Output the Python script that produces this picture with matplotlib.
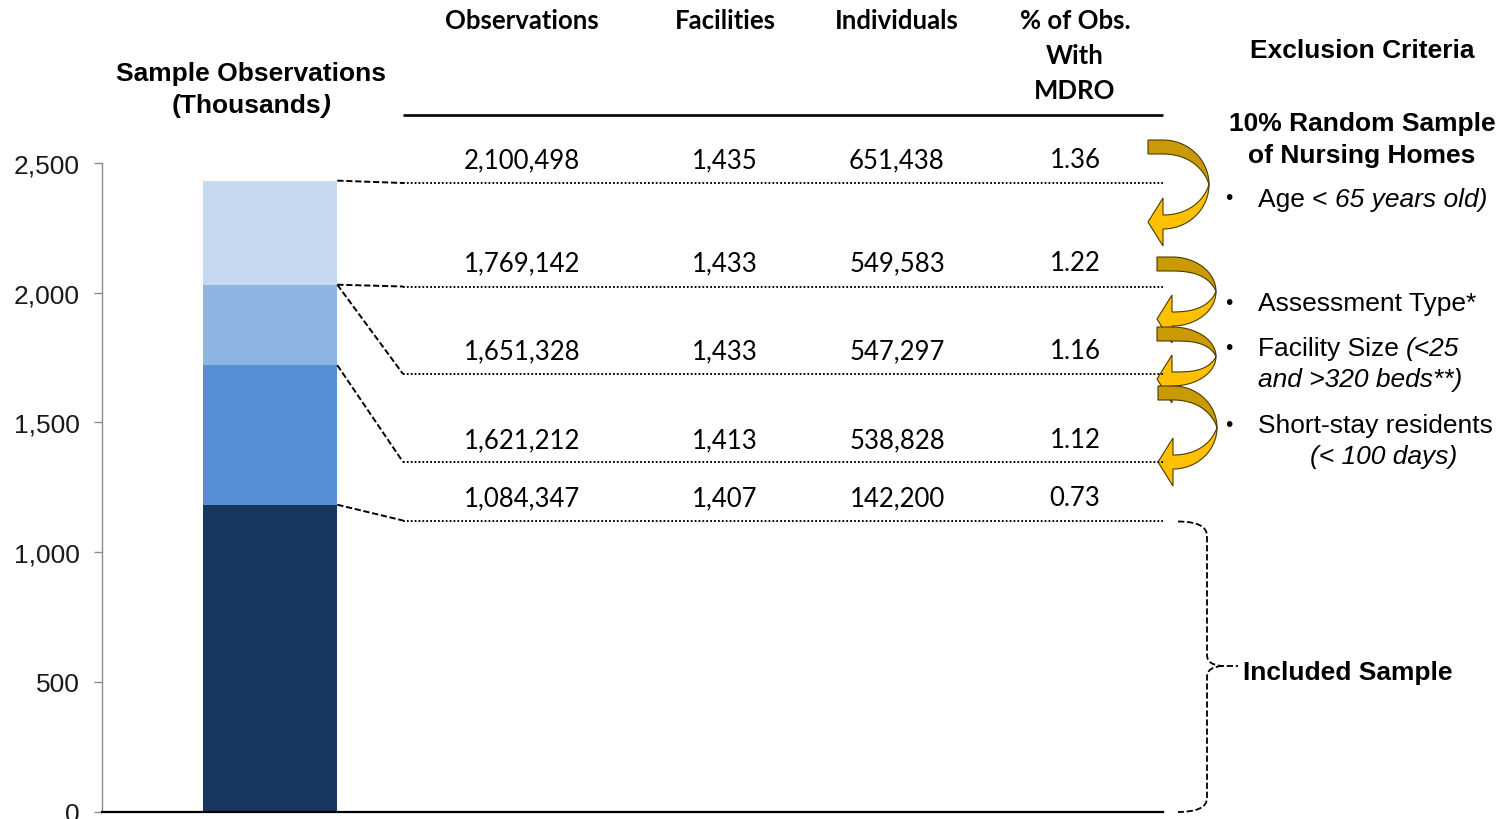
import numpy as np
import matplotlib
matplotlib.use("Agg")
import matplotlib.pyplot as plt
from matplotlib.patches import Polygon, PathPatch
from matplotlib.path import Path
from matplotlib.ticker import FuncFormatter

# ---------------- data ----------------
# stacked bar, bottom -> top (thousands of observations)
segment_names = ["Included sample", "Short-stay residents", "Assessment type / facility size", "Age < 65"]
segment_values = [1183, 538, 310, 401]
segment_colors = ["#17375E", "#558ED5", "#8EB4E3", "#C6D9F1"]

col_headers = ["Observations", "Facilities", "Individuals", "% of Obs.\nWith\nMDRO"]
observations = [2100498, 1769142, 1651328, 1621212, 1084347]
facilities = [1435, 1433, 1433, 1413, 1407]
individuals = [651438, 549583, 547297, 538828, 142200]
pct_mdro = [1.36, 1.22, 1.16, 1.12, 0.73]

y_ticks = [0, 500, 1000, 1500, 2000, 2500]

# ---------------- layout ----------------
W, H = 1507, 820
fig = plt.figure(figsize=(W / 100, H / 100), dpi=100)

ax = fig.add_axes([101.7 / W, (H - 812.7) / H, (1163 - 101.7) / W, (812.7 - 164) / H])
ax.set_ylim(0, 2500)
ax.set_xlim(0, 1)
bar_x, bar_w = 0.1586, 0.1268

base = 0
tops = []
for v, c in zip(segment_values, segment_colors):
    ax.bar(bar_x, v, bar_w, bottom=base, color=c, linewidth=0, zorder=2)
    base += v
    tops.append(base)

for s in ["top", "right"]:
    ax.spines[s].set_visible(False)
ax.spines["left"].set_color("#8c8c8c")
ax.spines["left"].set_linewidth(1.0)
ax.spines["bottom"].set_color("black")
ax.spines["bottom"].set_linewidth(1.6)
ax.set_xticks([])
ax.set_yticks(y_ticks)
ax.yaxis.set_major_formatter(FuncFormatter(lambda v, p: f"{int(v):,}"))
ax.tick_params(axis="y", direction="out", length=6, width=1, color="#8c8c8c",
               labelsize=19, pad=10, labelcolor="#1a1a1a")
for lab in ax.get_yticklabels():
    lab.set_family("Liberation Sans")

# overlay in pixel units for the table, connectors and annotations
ov = fig.add_axes([0, 0, 1, 1], zorder=5)
ov.set_xlim(0, W)
ov.set_ylim(H, 0)
ov.axis("off")
ov.patch.set_alpha(0)

renderer = fig.canvas.get_renderer()


def to_px(x, y):
    d = ax.transData.transform((x, y))
    return d[0], H - d[1]


ARIAL = "Liberation Sans"
TABLE = "Lato"


def rich(x, y, parts, size, weight="normal", align="left", family=ARIAL):
    """Draw a line made of regular/italic pieces; a leading space becomes a gap."""
    probe1 = ov.text(0, 0, "a a", fontsize=size, family=family, fontweight=weight)
    probe2 = ov.text(0, 0, "aa", fontsize=size, family=family, fontweight=weight)
    space = probe1.get_window_extent(renderer).width - probe2.get_window_extent(renderer).width
    probe1.remove()
    probe2.remove()
    arts, offs = [], []
    cur = 0.0
    for txt, italic in parts:
        if txt.startswith(" "):
            cur += space
            txt = txt.lstrip(" ")
        t = ov.text(0, y, txt, fontsize=size, family=family, fontweight=weight,
                    fontstyle="italic" if italic else "normal",
                    ha="left", va="center_baseline", color="black")
        offs.append(cur)
        cur += t.get_window_extent(renderer).width
        arts.append(t)
    start = x - cur / 2 if align == "center" else x
    for t, o in zip(arts, offs):
        t.set_x(start + o)


# y-axis title
rich(251, 72, [("Sample Observations", False)], 19, weight="bold", align="center")
rich(251, 103, [("(Thousands", False), (")", True)], 19, weight="bold", align="center")

# table header
col_x = [522, 725, 897, 1075]
for cx, hdr in zip(col_x, col_headers):
    for i, line in enumerate(hdr.split("\n")):
        ov.text(cx, 21 + 35 * i, line, fontsize=18.5, family=TABLE, fontweight="bold",
                ha="center", va="center", color="black")
ov.plot([403, 1163], [116, 116], color="black", lw=1.9, solid_capstyle="butt")

# table rows
row_text_y = [161, 264, 352, 441, 499]
row_line_y = [184, 287.5, 375, 463, 521.5]
for i, ty in enumerate(row_text_y):
    vals = [f"{observations[i]:,}", f"{facilities[i]:,}", f"{individuals[i]:,}", f"{pct_mdro[i]:.2f}"]
    for cx, v in zip(col_x, vals):
        ov.text(cx, ty, v, fontsize=18.5, family=TABLE, ha="center", va="center", color="black")

# connectors: bar boundary -> row rule
bar_right = bar_x + bar_w / 2
source_tops = [tops[3], tops[2], tops[2], tops[1], tops[0]]
for yv, ly in zip(source_tops, row_line_y):
    px, py = to_px(bar_right, yv)
    ov.plot([px, 403], [py, ly], color="black", lw=1.4, linestyle=(0, (3.2, 1.4)))
    ov.plot([403, 1163], [ly, ly], color="black", lw=1.4, linestyle=(0, (0.9, 1.1)))


# curved gold arrows (twisted ribbon: dark back half, bright front half)
def curved_arrow(x0, ytop, ytip, xr, t=14, head_len=15, hh=24):
    cx = x0 + head_len
    bo = (ytip - ytop + t / 2) / 2
    cy = ytop + bo
    ao = xr - cx
    th = np.linspace(np.pi / 2, 0, 60)
    w = t * np.sin(th)
    outer = np.c_[cx + ao * np.cos(th), cy - bo * np.sin(th)]
    inner = np.c_[cx + (ao - w) * np.cos(th), cy - (bo - w) * np.sin(th)]
    back = np.vstack([[[x0, ytop]], outer, inner[::-1], [[x0, ytop + t]]])
    th2 = np.linspace(0, -np.pi / 2, 60)
    w2 = t * np.abs(np.sin(th2))
    outer2 = np.c_[cx + ao * np.cos(th2), cy - bo * np.sin(th2)]
    inner2 = np.c_[cx + (ao - w2) * np.cos(th2), cy - (bo - w2) * np.sin(th2)]
    head = np.array([[cx, ytip + hh], [x0, ytip], [cx, ytip - hh]])
    front = np.vstack([outer2, head, inner2[::-1]])
    ov.add_patch(Polygon(back, closed=True, facecolor="#C99A06", edgecolor="#4a3b00", lw=0.8))
    ov.add_patch(Polygon(front, closed=True, facecolor="#FFC000", edgecolor="#4a3b00", lw=0.8))


for a in [(1148, 141, 223, 1209), (1157, 258, 320, 1216), (1157, 328, 380, 1216), (1158, 387, 463, 1217)]:
    curved_arrow(*a)

# exclusion criteria text
rich(1362, 49, [("Exclusion Criteria", False)], 19, weight="bold", align="center")
rich(1362, 122, [("10% Random Sample", False)], 19, weight="bold", align="center")
rich(1362, 154, [("of Nursing Homes", False)], 19, weight="bold", align="center")

bx, tx = 1229, 1258
for by in [197, 302, 347, 424]:
    ov.text(bx, by, "\u2022", fontsize=15, family=ARIAL, ha="center", va="center_baseline")
rich(tx, 197, [("Age <", False), (" 65 years old)", True)], 19)
rich(tx, 302, [("Assessment Type*", False)], 19)
rich(tx, 347, [("Facility Size", False), (" (<25", True)], 19)
rich(tx, 378, [("and >320 beds**)", True)], 19)
rich(tx, 424, [("Short-stay residents", False)], 19)
rich(1310, 455, [("(< 100 days)", True)], 19)

# brace around the included sample
verts = [(1178, 522.5), (1207, 522.5), (1207, 537), (1207, 656), (1207, 666), (1222, 667), (1238, 667),
         (1222, 667), (1207, 668), (1207, 678), (1207, 799), (1207, 813), (1178, 813)]
codes = [Path.MOVETO, Path.CURVE3, Path.CURVE3, Path.LINETO, Path.CURVE3, Path.CURVE3, Path.LINETO,
         Path.MOVETO, Path.CURVE3, Path.CURVE3, Path.LINETO, Path.CURVE3, Path.CURVE3]
ov.add_patch(PathPatch(Path(verts, codes), facecolor="none", edgecolor="black", lw=1.3,
                       linestyle=(0, (3.5, 1.5))))
rich(1243, 671, [("Included Sample", False)], 19, weight="bold")

fig.savefig("out.png", dpi=100)
